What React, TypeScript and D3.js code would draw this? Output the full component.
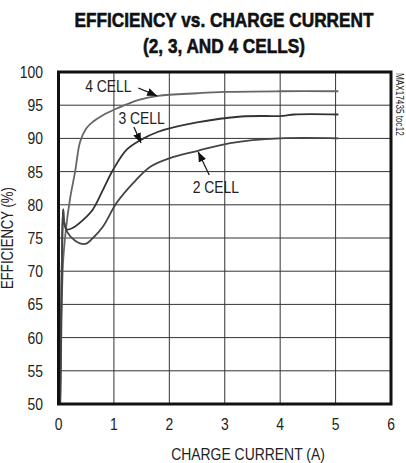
import { useEffect, useRef } from 'react';
import * as d3 from 'd3';

// Axis ticks
const currentTicks = [0, 1, 2, 3, 4, 5, 6];
const effTicks = [50, 55, 60, 65, 70, 75, 80, 85, 90, 95, 100];

// Curves (charge current A, efficiency %)
const cell4Current = [0.03, 0.05, 0.08, 0.13, 0.21, 0.3, 0.39, 0.5, 0.62, 0.8, 1.05, 1.45, 1.8, 2.5, 3, 4, 5.05];
const cell4Eff = [50, 60, 71, 76, 81, 85, 89.5, 91.5, 92.5, 93.5, 94.5, 95.8, 96.4, 96.8, 97, 97.1, 97.1];

const cell3Current = [0.03, 0.05, 0.07, 0.085, 0.1, 0.15, 0.25, 0.44, 0.62, 0.8, 0.98, 1.23, 1.47, 1.8, 2.5, 3.3, 4.05, 4.25, 5.05];
const cell3Eff = [50, 65, 76, 79.3, 77.5, 76.3, 76.5, 77.7, 79.3, 82.2, 85.2, 88.3, 89.7, 91, 92.4, 93.3, 93.4, 93.6, 93.6];

const cell2Current = [0.03, 0.05, 0.07, 0.085, 0.1, 0.15, 0.3, 0.48, 0.62, 0.8, 1.05, 1.35, 1.65, 2, 2.5, 3.1, 4, 5.05];
const cell2Eff = [50, 65, 76, 79.3, 77.5, 76, 74.6, 74.1, 75, 76.7, 80.3, 83.3, 85.7, 87, 88.1, 89.3, 90, 90];

// Labels and arrows (label pos, arrow start, arrow tip) in data units
const curveLabels = ['4 CELL', '3 CELL', '2 CELL'];
const labelCurrent = [0.9, 1.5, 2.84];
const labelEff = [97.9, 93.1, 82.7];
const arrowFrom = [[1.44, 97.6], [1.36, 91.7], [2.72, 84.5]];
const arrowTo = [[1.78, 96.4], [1.49, 89.3], [2.52, 88.0]];

const FONT = '"Liberation Sans", Arial, sans-serif';
const NARROW = 0.82; // squeeze Liberation Sans into a Helvetica Condensed look

export default function App() {
  const svgRef = useRef<SVGSVGElement>(null);
  const width = 406;
  const height = 463;

  useEffect(() => {
    if (!svgRef.current) return;
    const svg = d3.select(svgRef.current);
    svg.selectAll('*').remove();

    const left = 58.5, right = 391, top = 72, bottom = 404;
    const x = d3.scaleLinear().domain([0, 6]).range([left, right]);
    const y = d3.scaleLinear().domain([50, 100]).range([bottom, top]);

    svg.append('rect').attr('width', width).attr('height', height).attr('fill', '#fff');

    // condensed text helper
    const label = (tx: number, ty: number, str: string, size: number, anchor = 'middle', rot = 0, weight = 'normal') =>
      svg.append('text')
        .attr('transform', `translate(${tx},${ty}) rotate(${rot}) scale(${NARROW},1)`)
        .attr('text-anchor', anchor)
        .attr('font-family', FONT).attr('font-size', size).attr('font-weight', weight)
        .attr('fill', '#222')
        .text(str);

    // Title (heavy condensed look)
    [['EFFICIENCY vs. CHARGE CURRENT', 27], ['(2, 3, AND 4 CELLS)', 53]].forEach(([s, ty]) => {
      label(224, ty as number, s as string, 21, 'middle', 0, 'bold')
        .attr('fill', '#111').attr('stroke', '#111').attr('stroke-width', 0.6);
    });

    // Grid
    svg.append('g').selectAll('line')
      .data(effTicks.slice(1, -1))
      .join('line')
      .attr('x1', left).attr('x2', right)
      .attr('y1', d => y(d)).attr('y2', d => y(d))
      .attr('stroke', '#333').attr('stroke-width', 1);
    svg.append('g').selectAll('line')
      .data(currentTicks.slice(1, -1))
      .join('line')
      .attr('y1', top).attr('y2', bottom)
      .attr('x1', d => x(d)).attr('x2', d => x(d))
      .attr('stroke', '#333').attr('stroke-width', 1);

    // Curves
    const line = d3.line<[number, number]>()
      .x(d => x(d[0])).y(d => y(d[1]))
      .curve(d3.curveCatmullRom.alpha(0.5));
    const curves = [
      { xs: cell4Current, ys: cell4Eff, color: '#666' },
      { xs: cell3Current, ys: cell3Eff, color: '#333' },
      { xs: cell2Current, ys: cell2Eff, color: '#444' },
    ];
    curves.forEach(c => {
      const pts = c.xs.map((v, i) => [v, c.ys[i]] as [number, number]);
      svg.append('path').attr('d', line(pts))
        .attr('fill', 'none').attr('stroke', c.color).attr('stroke-width', 1.8);
    });

    // Frame
    svg.append('rect')
      .attr('x', left).attr('y', top).attr('width', right - left).attr('height', bottom - top)
      .attr('fill', 'none').attr('stroke', '#111').attr('stroke-width', 3);

    // Tick labels
    effTicks.forEach(d => label(43, y(d) + 6, String(d), 17, 'end'));
    currentTicks.forEach(d => label(x(d), 430, String(d), 17, 'middle'));

    // Axis titles
    label(248, 460, 'CHARGE CURRENT (A)', 17);
    label(13, (top + bottom) / 2, 'EFFICIENCY (%)', 16, 'middle', -90);
    label(396, top + 1, 'MAX17435 toc12', 10, 'start', 90);

    // Arrow marker
    svg.append('defs').append('marker')
      .attr('id', 'arrowhead')
      .attr('viewBox', '0 0 10 8').attr('refX', 10).attr('refY', 4)
      .attr('markerWidth', 10).attr('markerHeight', 8)
      .attr('markerUnits', 'userSpaceOnUse')
      .attr('orient', 'auto')
      .append('path').attr('d', 'M0,0 L10,4 L0,8 Z').attr('fill', '#111');

    curveLabels.forEach((lbl, i) => {
      label(x(labelCurrent[i]), y(labelEff[i]) + 6, lbl, 17);
      svg.append('line')
        .attr('x1', x(arrowFrom[i][0])).attr('y1', y(arrowFrom[i][1]))
        .attr('x2', x(arrowTo[i][0])).attr('y2', y(arrowTo[i][1]))
        .attr('stroke', '#111').attr('stroke-width', 1.2)
        .attr('marker-end', 'url(#arrowhead)');
    });
  }, []);

  return (
    <div style={{ position: 'absolute', left: 0, top: 0 }}>
      <svg ref={svgRef} width={width} height={height} style={{ display: 'block' }} />
    </div>
  );
}
